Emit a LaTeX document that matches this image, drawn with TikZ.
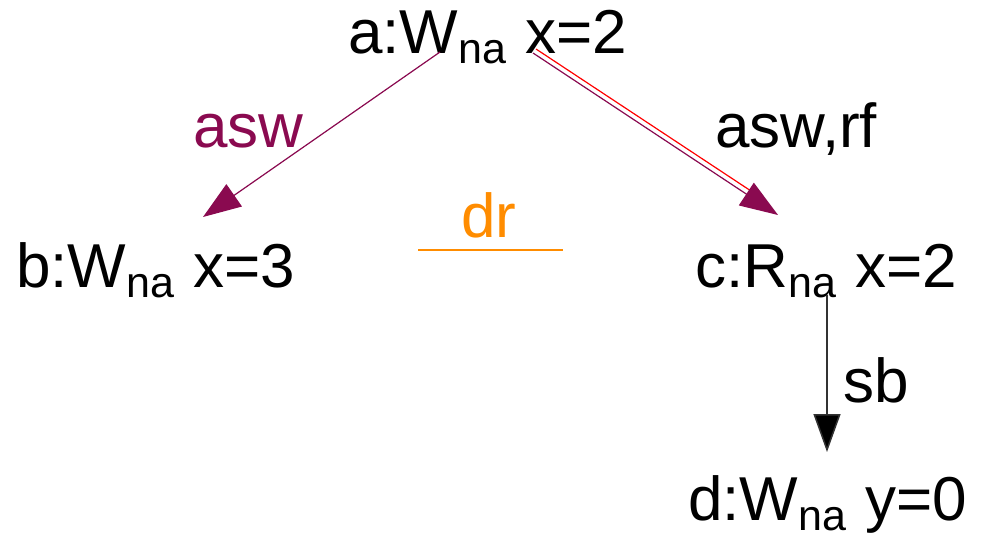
\documentclass[tikz,border=0pt]{standalone}
\usepackage{fontspec}
\setmainfont{Liberation Sans}
\usetikzlibrary{arrows.meta}
\definecolor{plum}{RGB}{138,10,80}
\definecolor{amber}{RGB}{255,140,0}
\newcommand\subna{\raisebox{-10pt}{\fontsize{43}{43}\selectfont na}\hspace{2pt}}
\tikzset{
  lbl/.style={anchor=base west, inner sep=0pt, font=\fontsize{62}{74}\selectfont},
  tip/.style={-{Triangle[length=38pt,width=27pt]}},
}
\begin{document}
\begin{tikzpicture}[x=1pt,y=-1pt]
\useasboundingbox (0,0) rectangle (982,536);
% event nodes
\node[lbl] (a) at (348,53) {a:W\subna{} x=2};
\node[lbl] (b) at (16,287) {b:W\subna{} x=3};
\node[lbl] (c) at (695,287) {c:R\subna{} x=2};
\node[lbl] (d) at (688,520) {d:W\subna{} y=0};
% edge labels
\node[lbl, text=plum] (lasw) at (193,147) {asw};
\node[lbl] (laswrf) at (715,147) {asw,rf};
\node[lbl, text=amber] (ldr) at (461,237) {dr};
\node[lbl] (lsb) at (843,402) {sb};
% connector end points
\coordinate (aB) at (440,52);
\coordinate (bT) at (203,217);
\coordinate (aC) at (533,53);
\coordinate (cT) at (778,215);
\coordinate (aCr) at (536,49);
\coordinate (cTr) at (751,191);
\coordinate (cB) at (827,295);
\coordinate (dT) at (827,452);
\coordinate (drL) at (418,250);
\coordinate (drR) at (563,250);
% relations
\draw[plum, line width=1.2pt, tip, fill=plum] (aB) -- (bT);
\draw[red, line width=1.2pt] (aCr) -- (cTr);
\draw[plum, line width=1.2pt, tip, fill=plum] (aC) -- (cT);
\draw[black!80, line width=1.5pt, -{Triangle[length=38pt,width=27pt,fill=black]}] (cB) -- (dT);
\draw[amber, line width=1.5pt] (drL) -- (drR);
\end{tikzpicture}
\end{document}
